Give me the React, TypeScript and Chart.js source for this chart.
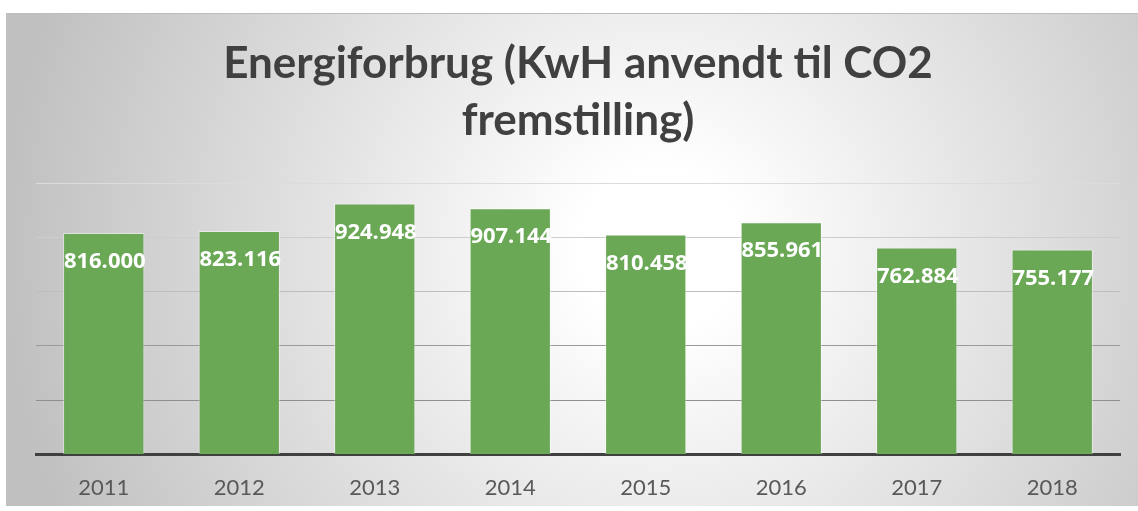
import React, { useEffect, useRef } from "react";
import { Chart, registerables } from "chart.js";

Chart.register(...registerables);

const categories = ["2011", "2012", "2013", "2014", "2015", "2016", "2017", "2018"];
const values = [816000, 823116, 924948, 907144, 810458, 855961, 762884, 755177];
const yTicks = [0, 200000, 400000, 600000, 800000, 1000000];
const titleLines = ["Energiforbrug (KwH anvendt til CO2", "fremstilling)"];
const gridColors: Record<number, string> = {
  0: "rgba(0,0,0,0)",
  200000: "#8f8f8f",
  400000: "#9a9a9a",
  600000: "#bdbdbd",
  800000: "#cdcdcd",
  1000000: "#dcdcdc",
};

const formatValue = (v: number) =>
  Math.floor(v / 1000) + "." + String(v % 1000).padStart(3, "0");

const W = 1138;
const H = 511;

const backgroundPlugin = {
  id: "bgBox",
  beforeDraw(chart: any) {
    const ctx = chart.ctx;
    ctx.save();
    ctx.fillStyle = "#ffffff";
    ctx.fillRect(0, 0, W, H);
    const g = ctx.createRadialGradient(660, 250, 80, 660, 250, 660);
    g.addColorStop(0, "#ffffff");
    g.addColorStop(1, "#c0c0c0");
    ctx.fillStyle = g;
    ctx.fillRect(6, 13, W - 6, 493);
    ctx.strokeStyle = "#bdbdbd";
    ctx.lineWidth = 1;
    ctx.beginPath();
    ctx.moveTo(6, 13.5);
    ctx.lineTo(W, 13.5);
    ctx.stroke();
    ctx.restore();
  },
};

const valueLabelPlugin = {
  id: "valueLabels",
  afterDatasetsDraw(chart: any) {
    const ctx = chart.ctx;
    const meta = chart.getDatasetMeta(0);
    ctx.save();
    ctx.fillStyle = "#ffffff";
    ctx.font = "bold 22px 'Open Sans'";
    ctx.textAlign = "center";
    ctx.textBaseline = "middle";
    meta.data.forEach((bar: any, i: number) => {
      ctx.fillText(formatValue(values[i]), bar.x + 1, bar.y + 29);
    });
    ctx.restore();
  },
};

export default function App() {
  const ref = useRef<HTMLCanvasElement | null>(null);
  useEffect(() => {
    document.body.style.margin = "0";
    if (!ref.current) return;
    const chart = new Chart(ref.current, {
      type: "bar",
      data: {
        labels: categories,
        datasets: [
          {
            data: values,
            backgroundColor: "#6aa856",
            borderColor: "rgba(255,255,255,0.45)",
            borderWidth: 1,
            barPercentage: 0.6,
            categoryPercentage: 1,
          },
        ],
      },
      options: {
        responsive: false,
        animation: false,
        layout: { padding: { top: 13, left: 36, right: 18, bottom: -10 } },
        plugins: {
          legend: { display: false },
          tooltip: { enabled: false },
          title: {
            display: true,
            text: titleLines,
            color: "#404040",
            font: { family: "Lato", size: 44, weight: "bold", lineHeight: 1.307 },
            padding: { top: 22, bottom: 33 },
          },
        },
        scales: {
          x: {
            grid: { display: false, drawTicks: false },
            border: { display: true, color: "#404040", width: 3 },
            ticks: {
              color: "#595959",
              font: { family: "Lato", size: 22 },
              padding: 20,
            },
          },
          y: {
            min: 0,
            max: 1000000,
            afterBuildTicks: (axis: any) => {
              axis.ticks = yTicks.map((v) => ({ value: v }));
            },
            grid: {
              drawTicks: false,
              color: (c: any) => gridColors[c.tick?.value] ?? "#cccccc",
              lineWidth: 1,
            },
            border: { display: false },
            ticks: { display: false },
          },
        },
      },
      plugins: [backgroundPlugin, valueLabelPlugin],
    });
    return () => chart.destroy();
  }, []);
  return <canvas ref={ref} width={W} height={H} style={{ display: "block" }} />;
}
